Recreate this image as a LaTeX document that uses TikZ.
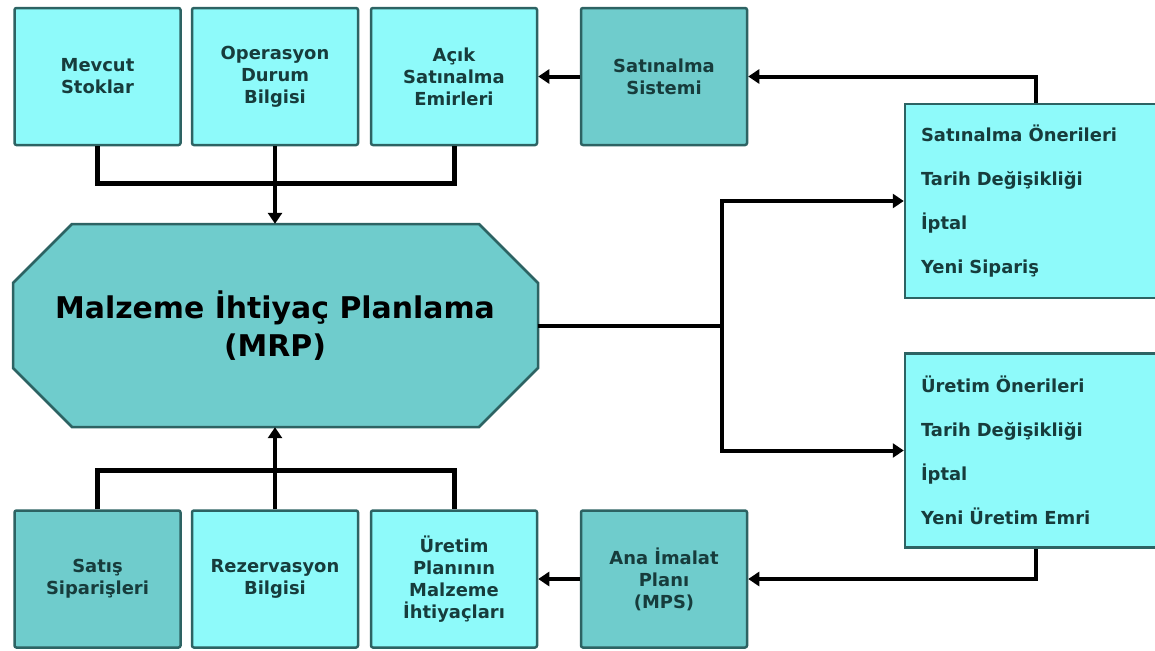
\documentclass[tikz,border=0pt]{standalone}
\usepackage{fontspec}
\setmainfont{DejaVu Sans}
\usetikzlibrary{arrows.meta}
\definecolor{lightbox}{HTML}{8EFAFA}
\definecolor{darkbox}{HTML}{6FCCCC}
\definecolor{edge}{HTML}{2D6363}
\definecolor{label}{HTML}{173C3C}

\begin{document}
\begin{tikzpicture}[
  box/.style={draw=edge,line width=2.5bp,rounded corners=2bp,minimum width=166bp,minimum height=137bp,inner sep=0pt,align=center,text=label,font=\fontsize{18}{22}\selectfont\bfseries},
  light/.style={box,fill=lightbox},
  dark/.style={box,fill=darkbox},
  list/.style={draw=edge,line width=2.5bp,fill=lightbox,minimum width=262bp,minimum height=194bp,inner xsep=16bp,text width=230bp,align=left,text=label,font=\fontsize{18}{44}\selectfont\bfseries},
  feed/.style={line width=5bp},
  flow/.style={line width=4bp,-{Triangle[length=11bp,width=14bp]}}
]
\useasboundingbox (0,0) rectangle (1155bp,-651bp);

\node (stock) at (97.5bp,-76.5bp) [light] {Mevcut\\Stoklar};
\node (oper) at (275bp,-76.5bp) [light] {Operasyon\\Durum\\Bilgisi};
\node (open) at (454bp,-76.5bp) [light] {Açık\\Satınalma\\Emirleri};
\node (purch) at (664bp,-76.5bp) [dark] {Satınalma\\Sistemi};
\node (sales) at (97.5bp,-579bp) [dark] {Satış\\Siparişleri};
\node (reserve) at (275bp,-579bp) [light] {Rezervasyon\\Bilgisi};
\node (needs) at (454bp,-579bp) [light] {Üretim\\Planının\\Malzeme\\İhtiyaçları};
\node (mps) at (664bp,-579bp) [dark] {Ana İmalat\\Planı\\(MPS)};

\draw [draw=edge,line width=2.5bp,fill=darkbox] (13bp,-283bp) -- (72bp,-224bp) -- (479bp,-224bp) -- (538bp,-283bp)
  -- (538bp,-368bp) -- (479bp,-427bp) -- (72bp,-427bp) -- (13bp,-368bp) -- cycle;
\node (mrp) at (275bp,-325.5bp) [minimum width=525bp,minimum height=203bp,inner sep=0pt,align=center,font=\fontsize{30}{38}\selectfont\bfseries] {Malzeme İhtiyaç Planlama\\(MRP)};

\node (buyadv) at (1036bp,-201bp) [list] {Satınalma Önerileri\\Tarih Değişikliği\\İptal\\Yeni Sipariş};
\node (makeadv) at (1036bp,-450.5bp) [list] {Üretim Önerileri\\Tarih Değişikliği\\İptal\\Yeni Üretim Emri};

\coordinate (topjoin) at (275bp,-183bp);
\coordinate (lowjoin) at (275bp,-470bp);
\coordinate (split) at (722bp,-325.5bp);

\draw [feed] (stock.south) |- (topjoin) -| (open.south);
\draw [feed] (sales.north) |- (lowjoin) -| (needs.north);
\draw [flow] (oper) -- (mrp);
\draw [flow] (reserve) -- (mrp);
\draw [flow] (purch) -- (open);
\draw [flow] (mps) -- (needs);
\draw [flow] (buyadv.north) |- (purch.east);
\draw [flow] (makeadv.south) |- (mps.east);
\draw [line width=4bp] (mrp.east) -- (split);
\draw [flow] (split) |- (buyadv.west);
\draw [flow] (split) |- (makeadv.west);
\end{tikzpicture}
\end{document}
